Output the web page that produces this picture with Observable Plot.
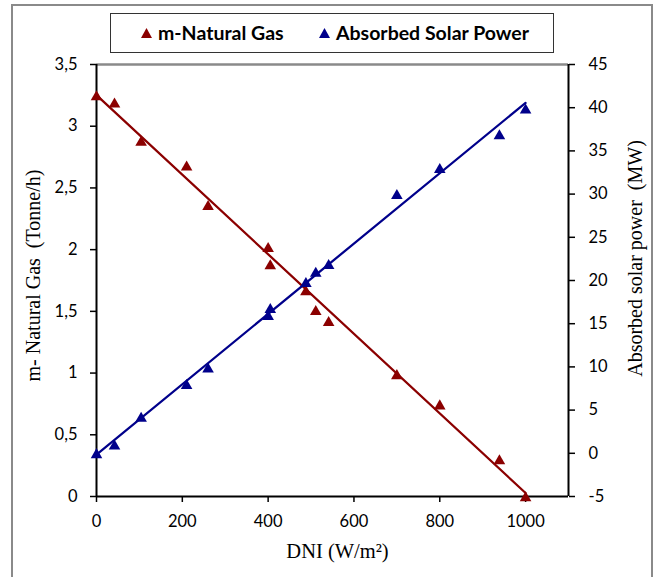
<!DOCTYPE html>
<html>
<head>
<meta charset="utf-8">
<script src="https://cdn.jsdelivr.net/npm/d3@7"></script>
<script src="https://cdn.jsdelivr.net/npm/@observablehq/plot@0.6"></script>
<style>
  html, body { margin: 0; padding: 0; background: #fff; overflow: hidden; }
  #wrap { position: relative; width: 660px; height: 577px; }
  #frame { position: absolute; left: 11px; top: 4px; width: 638px; height: 600px; border: 2px solid #8a8a8a; }
  #legend { position: absolute; left: 110px; top: 13px; width: 442px; height: 38px; border: 1.5px solid #333; background: #fff;
            font-family: Lato, "Open Sans", sans-serif; font-weight: bold; font-size: 19.5px; color: #000; }
  #legend .item { position: absolute; top: 0; height: 38px; line-height: 38px; white-space: nowrap; }
  #legend svg { vertical-align: middle; margin-right: 6px; position: relative; top: -2px; }
  #chart { position: absolute; left: 0; top: 0; }
</style>
</head>
<body>
<div id="wrap">
  <div id="frame"></div>
  <div id="chart"></div>
  <div id="legend"></div>
</div>
<script>
// DNI (W/m2)
const dni = [0, 42, 104, 210, 260, 400, 405, 488, 511, 541, 700, 800, 939, 1000];
// m-Natural Gas (Tonne/h) - left axis
const naturalGas = [3.25, 3.19, 2.88, 2.68, 2.36, 2.02, 1.88, 1.67, 1.51, 1.42, 0.99, 0.745, 0.30, 0.0];
// Absorbed solar power (MW) - right axis
const solarPower = [0, 1.0, 4.2, 8.0, 9.9, 16.0, 16.8, 19.8, 21.0, 21.9, 30.0, 33.0, 36.9, 39.9];

const seriesNames = ["m-Natural Gas", "Absorbed Solar Power"];
const seriesColors = ["#8b0000", "#00008b"];
const xTicks = [0, 200, 400, 600, 800, 1000];
const leftTicks = [0, 0.5, 1, 1.5, 2, 2.5, 3, 3.5];
const rightTicks = [-5, 0, 5, 10, 15, 20, 25, 30, 35, 40, 45];
const xTitle = "DNI (W/m²)";
const leftTitle = "m- Natural Gas  (Tonne/h)";
const rightTitle = "Absorbed solar power  (MW)";

const leftDomain = [0, 3.5];
const rightDomain = [-5, 45];
const toLeft = v => leftDomain[0] + (v - rightDomain[0]) * (leftDomain[1] - leftDomain[0]) / (rightDomain[1] - rightDomain[0]);
const fromLeft = v => rightDomain[0] + (v - leftDomain[0]) * (rightDomain[1] - rightDomain[0]) / (leftDomain[1] - leftDomain[0]);

const rows = dni.map((d, i) => ({x: d, gas: naturalGas[i], solar: toLeft(solarPower[i])}));

const red = seriesColors[0], blue = seriesColors[1];
const serif = "'Liberation Serif', 'Times New Roman', serif";

const chart = Plot.plot({
  width: 660,
  height: 577,
  marginLeft: 96,
  marginRight: 92,
  marginTop: 64,
  marginBottom: 81,
  style: {fontFamily: "Lato, 'Open Sans', sans-serif", fontSize: "16.5px", color: "#000", background: "transparent", overflow: "visible"},
  x: {domain: [0, 1100]},
  y: {domain: leftDomain},
  marks: [
    Plot.ruleY([leftDomain[1]], {stroke: "#8a8a8a", strokeWidth: 2.5}),
    Plot.axisX({ticks: xTicks, tickSize: 6, tickPadding: 13, label: null, tickFormat: d => String(d), strokeWidth: 1.5}),
    Plot.axisY({ticks: leftTicks, anchor: "left", tickSize: 6, tickPadding: 13, label: null,
      tickFormat: d => String(d).replace(".", ","), strokeWidth: 1.5}),
    Plot.axisY({ticks: rightTicks.map(toLeft), anchor: "right", tickSize: 6, tickPadding: 14, label: null,
      tickFormat: d => String(Math.round(fromLeft(d))), strokeWidth: 1.5}),
    Plot.ruleX([0], {stroke: "#000", strokeWidth: 2}),
    Plot.ruleX([1100], {stroke: "#000", strokeWidth: 2}),
    Plot.ruleY([0], {stroke: "#000", strokeWidth: 2}),
    Plot.linearRegressionY(rows, {x: "x", y: "gas", stroke: red, strokeWidth: 2.25, ci: 0}),
    Plot.linearRegressionY(rows, {x: "x", y: "solar", stroke: blue, strokeWidth: 2.25, ci: 0}),
    Plot.dot(rows, {x: "x", y: "gas", symbol: "triangle", fill: red, stroke: "none", r: 4.3, dy: 1.5}),
    Plot.dot(rows, {x: "x", y: "solar", symbol: "triangle", fill: blue, stroke: "none", r: 4.3, dy: 1.5}),
    Plot.text([leftTitle], {frameAnchor: "left", text: d => d, rotate: -90, dx: -63, dy: -5, textAnchor: "middle",
      fontFamily: serif, fontSize: 20, fill: "#000"}),
    Plot.text([rightTitle], {frameAnchor: "right", text: d => d, rotate: -90, dx: 67, dy: -22, textAnchor: "middle",
      fontFamily: serif, fontSize: 20, fill: "#000"}),
    Plot.text([xTitle], {frameAnchor: "bottom", text: d => d, dx: 5, dy: 55, textAnchor: "middle", lineAnchor: "middle",
      fontFamily: serif, fontSize: 20.5, fill: "#000"})
  ]
});
document.getElementById("chart").appendChild(chart);

// Legend
const legend = document.getElementById("legend");
const legendLeft = [30, 208];
seriesNames.forEach((name, i) => {
  const item = document.createElement("div");
  item.className = "item";
  item.style.left = legendLeft[i] + "px";
  item.innerHTML = `<svg width="11" height="10" viewBox="0 0 11 10"><polygon points="5.5,0 11,10 0,10" fill="${seriesColors[i]}"/></svg>`;
  const span = document.createElement("span");
  span.textContent = name;
  item.appendChild(span);
  legend.appendChild(item);
});
</script>
</body>
</html>
